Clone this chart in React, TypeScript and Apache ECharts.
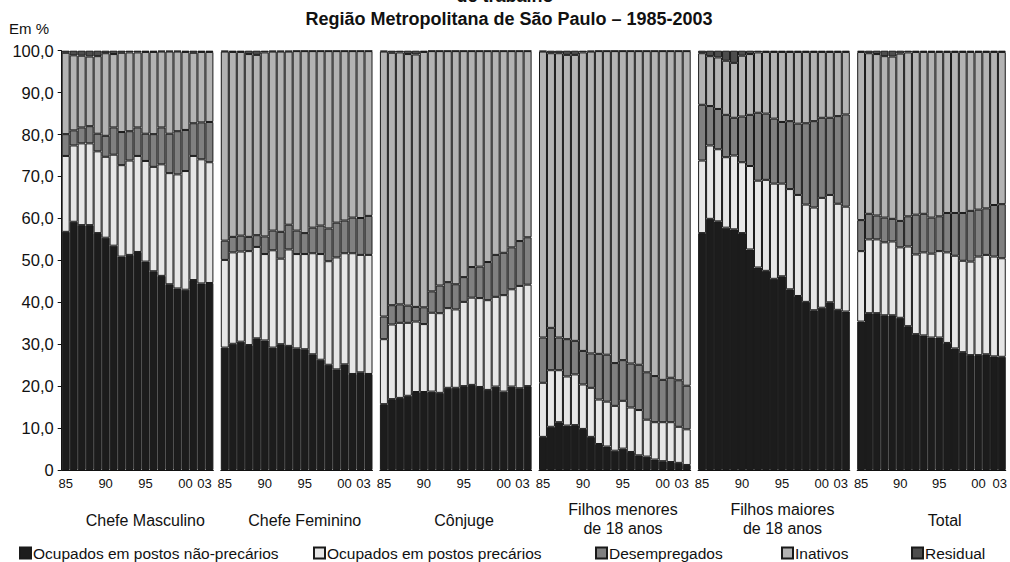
import React, { useEffect, useRef } from "react";
import * as echarts from "echarts";

const years = ["85","86","87","88","89","90","91","92","93","94","95","96","97","98","99","00","01","02","03"];
const groupNames = ["Chefe Masculino", "Chefe Feminino", "Cônjuge", "Filhos menores\nde 18 anos", "Filhos maiores\nde 18 anos", "Total"];
const seriesNames = ["Ocupados em postos não-precários", "Ocupados em postos precários", "Desempregados", "Inativos", "Residual"];

// Chefe Masculino
const cmNaoPrec = [56.8, 59.2, 58.4, 58.4, 56.5, 55.4, 53.5, 50.9, 51.3, 52.0, 49.7, 47.4, 46.3, 44.3, 43.3, 43.0, 45.3, 44.5, 44.6];
const cmPrec = [18.1, 18.2, 19.5, 19.5, 19.5, 19.3, 21.7, 21.8, 22.5, 22.9, 24.0, 24.9, 26.6, 26.5, 27.2, 28.3, 29.6, 29.6, 28.8];
const cmDesemp = [5.2, 3.6, 3.8, 4.1, 4.2, 5.0, 6.5, 7.9, 7.0, 6.8, 6.5, 7.8, 8.8, 9.4, 10.3, 9.8, 7.8, 8.8, 9.6];
const cmInat = [19.4, 17.9, 17.1, 16.6, 18.5, 19.7, 17.5, 18.9, 18.8, 17.9, 19.5, 19.6, 18.1, 19.6, 19.0, 18.6, 16.8, 16.8, 16.7];
const cmResid = [0.5, 1.1, 1.2, 1.4, 1.3, 0.6, 0.8, 0.5, 0.4, 0.4, 0.3, 0.3, 0.2, 0.2, 0.2, 0.3, 0.5, 0.3, 0.3];

// Chefe Feminino
const cfNaoPrec = [29.2, 30.1, 30.6, 29.8, 31.4, 30.9, 29.2, 30.0, 29.6, 29.0, 28.8, 27.6, 26.3, 25.1, 24.0, 25.2, 22.9, 23.3, 22.9];
const cfPrec = [20.9, 21.8, 21.5, 22.4, 21.8, 20.6, 23.2, 20.4, 23.0, 22.5, 22.7, 24.1, 25.2, 24.7, 26.7, 26.5, 28.8, 28.0, 28.4];
const cfDesemp = [4.6, 3.7, 3.8, 3.4, 2.8, 4.2, 4.7, 6.4, 5.9, 5.6, 5.0, 6.1, 6.8, 7.8, 8.3, 7.8, 8.5, 8.8, 9.3];
const cfInat = [45.1, 44.1, 43.8, 43.6, 43.0, 43.9, 42.7, 43.0, 41.3, 42.8, 43.4, 42.1, 41.6, 42.3, 40.9, 40.4, 39.7, 39.8, 39.3];
const cfResid = [0.2, 0.3, 0.3, 0.8, 1.0, 0.4, 0.2, 0.2, 0.2, 0.1, 0.1, 0.1, 0.1, 0.1, 0.1, 0.1, 0.1, 0.1, 0.1];

// Cônjuge
const cjNaoPrec = [15.7, 16.9, 17.2, 17.7, 18.6, 18.6, 18.7, 18.4, 19.6, 19.6, 20.0, 20.3, 19.8, 19.1, 19.9, 18.7, 19.9, 19.5, 20.0];
const cjPrec = [15.5, 17.8, 17.9, 17.4, 16.8, 16.2, 18.8, 19.0, 19.0, 18.7, 20.1, 20.8, 21.2, 21.4, 21.4, 23.0, 23.2, 24.4, 24.2];
const cjDesemp = [5.4, 4.6, 4.4, 4.1, 3.5, 4.0, 5.1, 6.6, 6.2, 6.0, 5.9, 7.3, 7.5, 9.1, 10.0, 10.1, 10.0, 10.7, 11.3];
const cjInat = [63.2, 60.2, 60.1, 60.0, 60.2, 60.9, 57.3, 55.9, 55.1, 55.6, 53.9, 51.5, 51.4, 50.3, 48.6, 48.1, 46.8, 45.3, 44.4];
const cjResid = [0.2, 0.5, 0.4, 0.8, 0.9, 0.3, 0.1, 0.1, 0.1, 0.1, 0.1, 0.1, 0.1, 0.1, 0.1, 0.1, 0.1, 0.1, 0.1];

// Filhos menores de 18 anos
const fmeNaoPrec = [7.9, 10.3, 11.4, 10.6, 10.7, 9.8, 7.9, 6.2, 5.6, 4.6, 5.1, 4.3, 3.5, 3.2, 2.5, 2.1, 1.9, 1.7, 1.2];
const fmePrec = [12.9, 13.5, 12.4, 11.7, 12.1, 10.6, 11.7, 10.6, 10.7, 10.7, 11.4, 10.6, 10.8, 8.8, 8.9, 9.3, 9.5, 8.6, 8.5];
const fmeDesemp = [10.8, 10.1, 7.8, 8.9, 8.0, 8.0, 8.2, 10.9, 11.2, 10.2, 9.7, 10.5, 10.8, 11.3, 11.0, 10.1, 10.6, 11.1, 10.4];
const fmeInat = [68.2, 65.5, 67.8, 67.8, 68.2, 71.2, 72.0, 72.2, 72.4, 74.4, 73.7, 74.5, 74.8, 76.6, 77.5, 78.4, 77.9, 78.5, 79.8];
const fmeResid = [0.2, 0.6, 0.6, 1.0, 1.0, 0.4, 0.2, 0.1, 0.1, 0.1, 0.1, 0.1, 0.1, 0.1, 0.1, 0.1, 0.1, 0.1, 0.1];

// Filhos maiores de 18 anos
const fmaNaoPrec = [56.5, 59.9, 59.3, 57.8, 57.4, 56.5, 52.6, 48.3, 47.5, 45.6, 46.2, 43.1, 41.5, 40.1, 38.1, 38.7, 40.0, 38.2, 37.8];
const fmaPrec = [17.3, 17.5, 17.2, 16.8, 17.6, 16.9, 19.9, 20.7, 21.7, 22.7, 22.1, 23.9, 24.1, 23.2, 24.5, 26.2, 25.6, 25.3, 25.0];
const fmaDesemp = [13.3, 9.4, 9.6, 10.1, 9.0, 10.9, 12.2, 16.2, 15.8, 15.5, 14.7, 16.2, 17.0, 19.4, 20.6, 19.1, 18.4, 20.9, 22.0];
const fmaInat = [12.3, 11.9, 12.3, 12.9, 13.1, 14.5, 14.5, 14.4, 14.7, 15.9, 16.7, 16.5, 17.1, 17.0, 16.5, 15.7, 15.7, 15.3, 14.9];
const fmaResid = [0.6, 1.3, 1.6, 2.4, 2.9, 1.2, 0.8, 0.4, 0.3, 0.3, 0.3, 0.3, 0.3, 0.3, 0.3, 0.3, 0.3, 0.3, 0.3];

// Total
const totNaoPrec = [35.4, 37.4, 37.4, 36.9, 36.9, 36.3, 34.3, 32.4, 32.1, 31.6, 31.6, 30.3, 29.0, 28.1, 27.4, 27.4, 27.6, 27.1, 27.0];
const totPrec = [16.8, 17.6, 17.6, 17.4, 17.6, 16.8, 19.0, 19.0, 19.8, 20.0, 20.6, 21.6, 22.1, 21.8, 22.3, 23.5, 23.7, 23.8, 23.5];
const totDesemp = [7.4, 6.1, 5.7, 5.9, 5.4, 6.3, 7.2, 9.5, 9.2, 8.6, 8.3, 9.4, 10.2, 11.4, 12.1, 11.2, 11.1, 12.3, 12.9];
const totInat = [40.1, 38.3, 38.5, 38.5, 38.7, 39.9, 39.1, 38.8, 38.6, 39.5, 39.2, 38.4, 38.4, 38.4, 37.9, 37.6, 37.3, 36.5, 36.3];
const totResid = [0.3, 0.6, 0.8, 1.3, 1.4, 0.7, 0.4, 0.3, 0.3, 0.3, 0.3, 0.3, 0.3, 0.3, 0.3, 0.3, 0.3, 0.3, 0.3];

const groupData = [
  [cmNaoPrec, cmPrec, cmDesemp, cmInat, cmResid],
  [cfNaoPrec, cfPrec, cfDesemp, cfInat, cfResid],
  [cjNaoPrec, cjPrec, cjDesemp, cjInat, cjResid],
  [fmeNaoPrec, fmePrec, fmeDesemp, fmeInat, fmeResid],
  [fmaNaoPrec, fmaPrec, fmaDesemp, fmaInat, fmaResid],
  [totNaoPrec, totPrec, totDesemp, totInat, totResid],
];

const colors = ["#1c1c1c", "#e6e6e6", "#808080", "#b3b3b3", "#4d4d4d"];
const FONT = "'Liberation Sans', Arial, Helvetica, sans-serif";
const TXT = "#111";

export default function App() {
  const ref = useRef<HTMLDivElement>(null);
  useEffect(() => {
    document.body.style.margin = "0";
    if (!ref.current) return;
    const chart = echarts.init(ref.current, null, { renderer: "svg" });

    const gLeft0 = 61.7;
    const gStep = 159.1;
    const gWidth = 151.7;
    const gTop = 50.7;
    const gHeight = 419.3;

    const grids: any[] = [];
    const xAxes: any[] = [];
    const yAxes: any[] = [];
    const series: any[] = [];
    const labelIdx = [0, 5, 10, 15, 18];

    groupData.forEach((grp, g) => {
      grids.push({ left: gLeft0 + g * gStep, top: gTop, width: gWidth, height: gHeight, containLabel: false });
      xAxes.push({
        type: "category",
        gridIndex: g,
        data: years,
        axisLine: { show: true, lineStyle: { color: "#111", width: 1 } },
        axisTick: { show: false },
        axisLabel: {
          interval: (i: number) => labelIdx.includes(i),
          fontSize: 13,
          fontFamily: FONT,
          color: TXT,
          margin: 7,
          formatter: (v: string, i: number) => (i === 18 ? "{last|" + v + "}" : v),
          rich: {
            last: { fontSize: 13, fontFamily: FONT, color: TXT, padding: [0, g === 5 ? 4 : 10, 0, 0] },
          },
        },
      });
      yAxes.push({
        type: "value",
        gridIndex: g,
        min: 0,
        max: 100,
        interval: 10,
        show: g === 0,
        axisLine: { show: g === 0, lineStyle: { color: "#111", width: 1 } },
        axisTick: { show: g === 0, length: 4, lineStyle: { color: "#111" } },
        splitLine: { show: false },
        axisLabel: {
          show: g === 0,
          fontSize: 16.5,
          fontFamily: FONT,
          color: TXT,
          margin: 8,
          formatter: (v: number) => (v === 0 ? "0" : v.toFixed(1).replace(".", ",")),
        },
      });
      grp.forEach((vals, s) => {
        series.push({
          type: "bar",
          name: seriesNames[s],
          stack: "g" + g,
          xAxisIndex: g,
          yAxisIndex: g,
          data: vals,
          barWidth: "100%",
          barCategoryGap: "0%",
          itemStyle: { color: colors[s], borderColor: "#1a1a1a", borderWidth: 1 },
          emphasis: { disabled: true },
        });
      });
    });

    const groupCenters = [145.3, 304.7, 464, 623, 782.5, 944.7];
    const groupTexts: any[] = groupNames.map((name, g) => ({
      type: "text",
      x: groupCenters[g],
      y: name.includes("\n") ? 519 : 520,
      style: {
        text: name,
        fontSize: 16,
        lineHeight: 19.5,
        fontFamily: FONT,
        fill: TXT,
        align: "center",
        verticalAlign: "middle",
      },
    }));

    const legendLefts = [19, 313, 595, 781, 911];
    const legends = seriesNames.map((n, i) => ({
      data: [n],
      left: legendLefts[i],
      top: 545,
      padding: 0,
      itemWidth: 11,
      itemHeight: 11,
      icon: "rect",
      selectedMode: false,
      textStyle: { fontSize: 15.5, fontFamily: FONT, color: TXT, padding: [0, 0, 0, -3] },
    }));

    chart.setOption({
      animation: false,
      backgroundColor: "#fff",
      grid: grids,
      xAxis: xAxes,
      yAxis: yAxes,
      series,
      legend: legends,
      graphic: [
        {
          type: "text",
          x: 505,
          y: -4,
          style: { text: "de trabalho", fontSize: 18, fontWeight: "bold", fontFamily: FONT, fill: TXT, align: "center", verticalAlign: "middle" },
        },
        {
          type: "text",
          x: 509,
          y: 18.5,
          style: {
            text: "Região Metropolitana de São Paulo – 1985-2003",
            fontSize: 18,
            fontWeight: "bold",
            fontFamily: FONT,
            fill: TXT,
            align: "center",
            verticalAlign: "middle",
          },
        },
        {
          type: "text",
          x: 9,
          y: 28,
          style: { text: "Em %", fontSize: 15, fontFamily: FONT, fill: TXT, align: "left", verticalAlign: "middle" },
        },
        ...groupTexts,
      ],
    });
    return () => chart.dispose();
  }, []);
  return <div ref={ref} style={{ width: 1010, height: 562 }} />;
}
